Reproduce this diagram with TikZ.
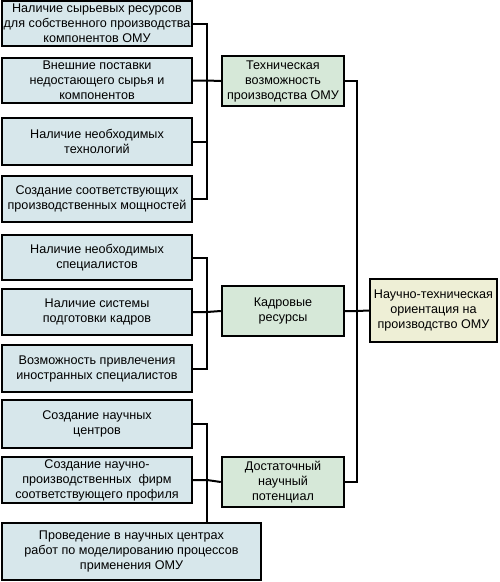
\documentclass[tikz,border=0pt]{standalone}
\usepackage{fontspec}
\setmainfont{Liberation Sans}
\definecolor{leftfill}{HTML}{D7E7EB}
\definecolor{midfill}{HTML}{D6E8D8}
\definecolor{endfill}{HTML}{EEEFD6}
\begin{document}
\begin{tikzpicture}[x=1pt,y=-1pt,
  box/.style={draw=black, line width=2.4pt, align=center, inner sep=0pt,
    font=\fontsize{12.6}{15}\selectfont},
  lbox/.style={box, fill=leftfill},
  mbox/.style={box, fill=midfill},
  ebox/.style={box, fill=endfill},
  conn/.style={line width=2pt}]
\useasboundingbox (0,0) rectangle (500,582);
% left boxes: x 2..192
\node[lbox, minimum width=190pt, minimum height=45pt] (l1) at (97,23.5) {Наличие сырьевых ресурсов\\для собственного производства\\компонентов ОМУ};
\node[lbox, minimum width=190pt, minimum height=45pt] (l2) at (97,80.5) {Внешние поставки\\недостающего сырья и\\компонентов};
\node[lbox, minimum width=190pt, minimum height=47pt] (l3) at (97,141.5) {Наличие необходимых\\технологий};
\node[lbox, minimum width=190pt, minimum height=46pt] (l4) at (97,199) {Создание соответствующих\\производственных мощностей};
\node[lbox, minimum width=190pt, minimum height=45pt] (l5) at (97,257.5) {Наличие необходимых\\специалистов};
\node[lbox, minimum width=190pt, minimum height=46pt] (l6) at (97,312) {Наличие системы\\подготовки кадров};
\node[lbox, minimum width=190pt, minimum height=47pt] (l7) at (97,368.5) {Возможность привлечения\\иностранных специалистов};
\node[lbox, minimum width=190pt, minimum height=48pt] (l8) at (97,424) {Создание научных\\центров};
\node[lbox, minimum width=190pt, minimum height=46pt] (l9) at (97,480) {Создание научно-\\производственных\ \ фирм\\соответствующего профиля};
\node[lbox, minimum width=259pt, minimum height=57pt] (l10) at (131.5,551.5) {Проведение в научных центрах\\работ по моделированию процессов\\применения ОМУ};
% middle boxes: x 222..344
\node[mbox, minimum width=122pt, minimum height=50pt] (m1) at (283,81) {Техническая\\возможность\\производства ОМУ};
\node[mbox, minimum width=122pt, minimum height=50pt] (m2) at (283,311) {Кадровые\\ресурсы};
\node[mbox, minimum width=122pt, minimum height=50pt] (m3) at (283,482) {Достаточный\\научный\\потенциал};
% final box
\node[ebox, minimum width=127pt, minimum height=63pt] (e) at (433.5,310.5) {Научно-техническая\\ориентация на\\производство ОМУ};
% bus coordinates
\coordinate (b1t) at (207,23.5);
\coordinate (b1b) at (207,199);
\coordinate (b2t) at (207,257.5);
\coordinate (b2b) at (207,368.5);
\coordinate (b3t) at (207,424);
\coordinate (rt) at (357,81);
\coordinate (rb) at (357,482);
% group 1
\draw[conn] (l1.east) -- (b1t) -- (b1b) -- (l4.east);
\draw[conn] (l2.east) -- (l2.east -| b1t) -- (m1.west);
\draw[conn] (l3.east) -- (l3.east -| b1t);
% group 2
\draw[conn] (l5.east) -- (b2t) -- (b2b) -- (l7.east);
\draw[conn] (l6.east) -- (l6.east -| b2t) -- (m2.west);
% group 3
\draw[conn] (l8.east) -- (b3t) -- (b3t |- l10.north);
\draw[conn] (l9.east) -- (l9.east -| b3t) -- (m3.west);
% right bus
\draw[conn] (m1.east) -- (rt) -- (rb) -- (m3.east);
\draw[conn] (m2.east) -- (m2.east -| rt) -- (e.west);
\end{tikzpicture}
\end{document}
